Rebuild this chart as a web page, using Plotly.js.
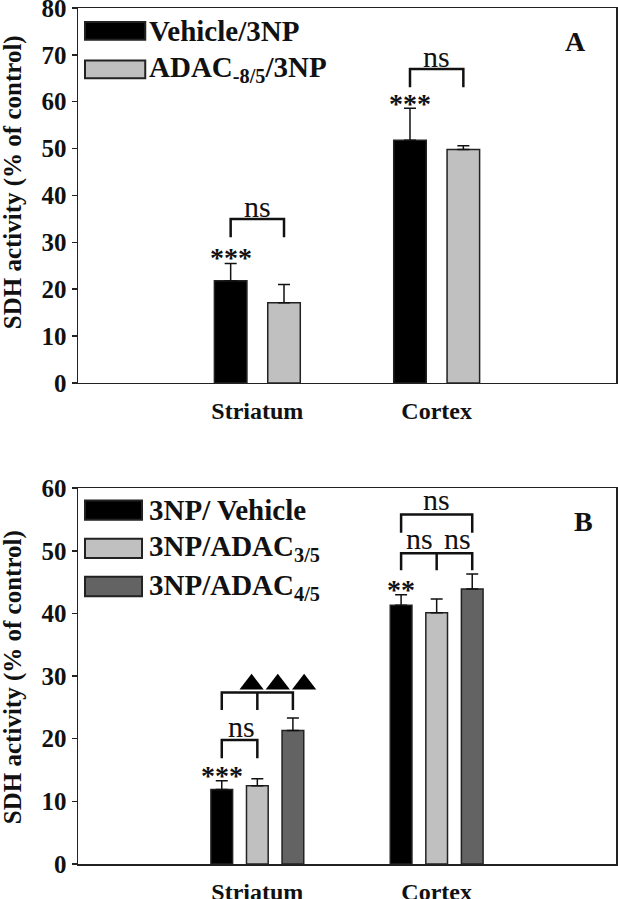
<!DOCTYPE html>
<html>
<head>
<meta charset="utf-8">
<script src="https://cdn.plot.ly/plotly-3.0.1.min.js"></script>
<style>
  html, body { margin: 0; padding: 0; background: #fff; }
  #chart { width: 618px; height: 899px; }
</style>
</head>
<body>
<div id="chart"></div>
<script>
// categories on both panels
const categories = ["Striatum", "Cortex"];
const catPos = [0, 1];

// panel A: SDH activity (% of control), mean and upper error
const namesA = ["Vehicle/3NP", "ADAC<sub>-8/5</sub>/3NP"];
const vehicleA = [21.8, 51.8];
const vehicleAErr = [3.7, 6.8];
const adacA = [17.1, 49.8];
const adacAErr = [3.9, 0.8];

// panel B
const namesB = ["3NP/ Vehicle", "3NP/ADAC<sub>3/5</sub>", "3NP/ADAC<sub>4/5</sub>"];
const vehicleB = [11.9, 41.3];
const vehicleBErr = [1.4, 1.7];
const adac35B = [12.5, 40.1];
const adac35BErr = [1.1, 2.2];
const adac45B = [21.3, 43.9];
const adac45BErr = [2.0, 2.4];

const colors = ["#000000", "#c0c0c0", "#636363"];
const SERIF = "Liberation Serif, Times New Roman, serif";

function getElem(id) {
  return document.getElementById(id);
}

function barTrace(y, err, color, xa, ya) {
  return {
    type: "bar",
    x: catPos,
    y: y,
    xaxis: xa,
    yaxis: ya,
    marker: { color: color, line: { color: "#222", width: 1.5 } },
    error_y: {
      type: "data",
      array: err,
      arrayminus: err.map(() => 0),
      symmetric: false,
      color: "#111",
      thickness: 1.5,
      width: 6
    },
    showlegend: false,
    hoverinfo: "skip"
  };
}

// bracket path helper: legs go down from the bar line at each x
function bracket(xs, yTop, yLeg, xref, yref) {
  let d = "M" + xs[0] + "," + yLeg + " L" + xs[0] + "," + yTop + " L" + xs[xs.length - 1] + "," + yTop +
          " L" + xs[xs.length - 1] + "," + yLeg;
  for (let i = 1; i < xs.length - 1; i++) {
    d += " M" + xs[i] + "," + yTop + " L" + xs[i] + "," + yLeg;
  }
  return { type: "path", path: d, xref: xref, yref: yref, line: { color: "#111", width: 2.5 } };
}

function txt(text, x, y, xref, yref, size, bold, extra) {
  return Object.assign({
    text: text, x: x, y: y, xref: xref, yref: yref, showarrow: false,
    xanchor: "center", yanchor: "middle",
    font: { family: SERIF, size: size, color: "#111", weight: bold ? "bold" : "normal" }
  }, extra || {});
}

function drawChart() {
  const div = getElem("chart");

  const traces = [
    barTrace(vehicleA, vehicleAErr, colors[0], "x", "y"),
    barTrace(adacA, adacAErr, colors[1], "x", "y"),
    barTrace(vehicleB, vehicleBErr, colors[0], "x2", "y2"),
    barTrace(adac35B, adac35BErr, colors[1], "x2", "y2"),
    barTrace(adac45B, adac45BErr, colors[2], "x2", "y2")
  ];

  // triangles above striatum in panel B
  traces.push({
    type: "scatter", mode: "markers",
    x: [-0.032, 0.114, 0.261], y: [28.7, 28.7, 28.7],
    xaxis: "x2", yaxis: "y2",
    marker: { symbol: "triangle-up", size: 21, color: "#000" },
    showlegend: false, hoverinfo: "skip"
  });

  const slotA = 0.2975 / 2;
  const slotB = 0.595 / 3;

  const shapes = [
    bracket([-slotA, slotA], 35.0, 31.1, "x", "y"),
    bracket([1 - slotA, 1 + slotA], 67.0, 63.1, "x", "y"),
    bracket([-slotB, 0], 19.8, 16.9, "x2", "y2"),
    bracket([-slotB, 0, slotB], 27.4, 24.6, "x2", "y2"),
    bracket([1 - slotB, 1, 1 + slotB], 49.6, 46.9, "x2", "y2"),
    bracket([1 - slotB, 1 + slotB], 55.8, 52.9, "x2", "y2")
  ];

  const annotations = [
    txt("ns", 0, 37.6, "x", "y", 30, false),
    txt("ns", 1, 69.6, "x", "y", 30, false),
    txt("***", -slotA, 26.8, "x", "y", 28, true),
    txt("***", 1 - slotA, 59.6, "x", "y", 28, true),
    txt("A", 0.924, 72.8, "x domain", "y", 28, true),
    txt("ns", -0.09, 22.0, "x2", "y2", 30, false),
    txt("***", -slotB, 14.2, "x2", "y2", 28, true),
    txt("**", 1 - slotB, 43.9, "x2", "y2", 28, true),
    txt("ns", 0.902, 51.9, "x2", "y2", 30, false),
    txt("ns", 1.114, 51.9, "x2", "y2", 30, false),
    txt("ns", 1.0, 58.2, "x2", "y2", 30, false),
    txt("B", 0.939, 54.7, "x2 domain", "y2", 28, true),
    txt("SDH activity (% of control)", -0.121, 0.535, "x domain", "y domain", 25, true, { textangle: -90 }),
    txt("SDH activity (% of control)", -0.121, 0.497, "x2 domain", "y2 domain", 25, true, { textangle: -90 })
  ];

  // legend swatches + labels, drawn as shapes (panel A)
  namesA.forEach((n, i) => {
    const yc = 75.1 - i * 8.2;
    shapes.push({
      type: "rect", xref: "x domain", yref: "y",
      x0: 0.013, x1: 0.125, y0: yc - 1.9, y1: yc + 1.9,
      fillcolor: colors[i], line: { color: "#222", width: 2 }
    });
    annotations.push(txt(n, 0.128, yc, "x domain", "y", 29, true, { xanchor: "left" }));
  });
  // panel B
  namesB.forEach((n, i) => {
    const yc = 56.5 - i * 6.1;
    shapes.push({
      type: "rect", xref: "x2 domain", yref: "y2",
      x0: 0.013, x1: 0.119, y0: yc - 1.55, y1: yc + 1.55,
      fillcolor: colors[i], line: { color: "#222", width: 2 }
    });
    annotations.push(txt(n, 0.128, yc, "x2 domain", "y2", 29, true, { xanchor: "left" }));
  });

  const xAxisBase = {
    range: [-1, 2],
    tickvals: catPos,
    ticktext: categories,
    ticks: "",
    ticklabelstandoff: 6,
    tickfont: { family: SERIF, size: 24, color: "#111", weight: "bold" },
    ticklabeloverflow: "allow",
    showline: true, mirror: true, linecolor: "#222", linewidth: 1.5,
    showgrid: false, zeroline: false, fixedrange: true
  };
  const yAxisBase = {
    ticks: "outside", ticklen: 5, tickwidth: 1.5, tickcolor: "#222",
    dtick: 10,
    tickfont: { family: SERIF, size: 25, color: "#111", weight: "bold" },
    ticklabeloverflow: "allow",
    showline: true, mirror: true, linecolor: "#222", linewidth: 1.5,
    showgrid: false, zeroline: false, fixedrange: true
  };

  const layout = {
    width: 618, height: 899,
    margin: { l: 78, r: 2, t: 8, b: 35 },
    paper_bgcolor: "#fff", plot_bgcolor: "#fff",
    barmode: "group", bargap: 0.405, bargroupgap: 0.39,
    showlegend: false,
    xaxis: Object.assign({}, xAxisBase, { anchor: "y" }),
    yaxis: Object.assign({}, yAxisBase, { domain: [0.562, 1], range: [0, 80], anchor: "x" }),
    xaxis2: Object.assign({}, xAxisBase, { anchor: "y2" }),
    yaxis2: Object.assign({}, yAxisBase, { domain: [0, 0.439], range: [0, 60], anchor: "x2" }),
    shapes: shapes,
    annotations: annotations
  };

  Plotly.newPlot(div, traces, layout, { staticPlot: true });
}

document.addEventListener("DOMContentLoaded", drawChart);
</script>
</body>
</html>
